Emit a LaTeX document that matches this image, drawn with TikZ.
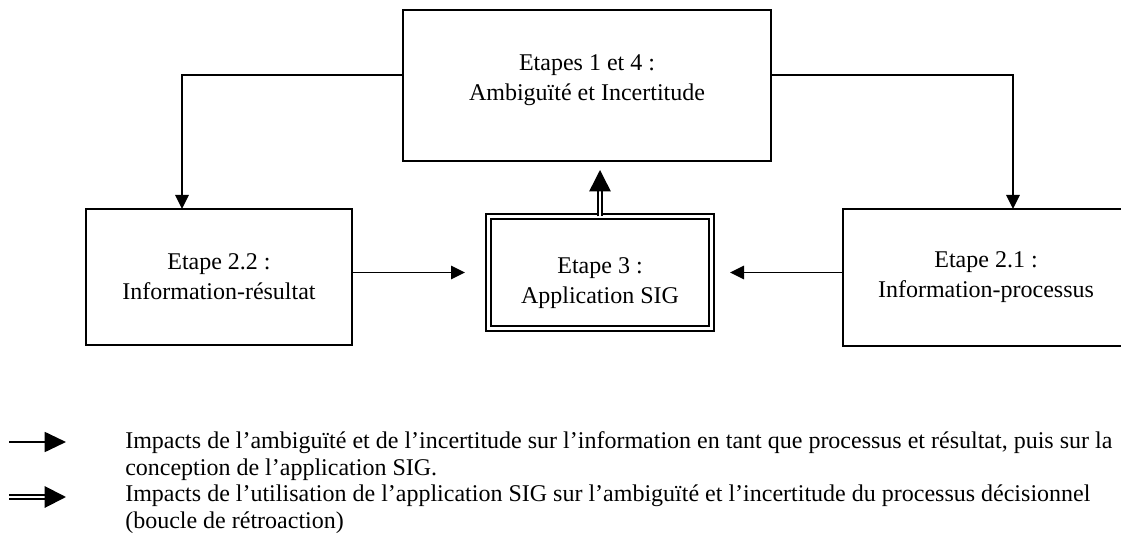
\documentclass[tikz,border=0pt]{standalone}
\usepackage{fontspec}
\setmainfont{Liberation Serif}
\usetikzlibrary{arrows.meta,positioning}
\tikzstyle{etapebox} = [rectangle, draw, line width=1.5pt, outer sep=0pt, inner sep=0pt,
    align=center, font=\fontsize{18}{22.5}\selectfont]
\tikzstyle{sigbox} = [etapebox, double, line width=1.1pt, double distance=2.4pt]
\tikzstyle{arrow} = [line width=1.4pt, -{Triangle[length=10.5pt,width=10pt]}]
\tikzstyle{dblarrow} = [double, line width=1.1pt, double distance=1.6pt, -{Triangle[length=16pt,width=16pt]}]
\tikzstyle{legend} = [inner sep=0pt, align=left, font=\fontsize{18}{19.8}\selectfont]

\begin{document}
\begin{tikzpicture}[x=0.75pt, y=-0.75pt]
\useasboundingbox (0,0) rectangle (1121,538);
% the four steps
\node[etapebox, minimum width=276pt, minimum height=113.25pt] (ambig) at (587,85.5) {Etapes 1 et 4 :\\Ambiguïté et Incertitude\rule[-12pt]{0pt}{12pt}};
\node[etapebox, minimum width=199.5pt, minimum height=102pt] (resultat) at (219,277) {Etape 2.2 :\\Information-résultat};
\node[etapebox, minimum width=214.5pt, minimum height=102.75pt] (processus) at (986,277.5) {Etape 2.1 :\\Information-processus};
\node[sigbox, minimum width=167.25pt, minimum height=84pt] (sig) at (600,272.5) {\rule{0pt}{28pt}Etape 3 :\\Application SIG};
% connectors
\coordinate (lcorner) at (182,75);
\coordinate (rcorner) at (1013,75);
\draw[arrow] (ambig.west |- lcorner) -| (lcorner |- resultat.north);
\draw[arrow] (ambig.east |- rcorner) -| (rcorner |- processus.north);
\draw[arrow, shorten >=17.6pt] (resultat.east |- sig.west) -- (sig.west);
\draw[arrow, shorten >=13.9pt] (processus.west |- sig.east) -- (sig.east);
\draw[dblarrow, shorten >=6.75pt] (sig.north) -- (sig.north |- ambig.south);
% legend
\coordinate (sa) at (9,442); \coordinate (sb) at (66,442);
\coordinate (da) at (9,497); \coordinate (db) at (66,497);
\draw[arrow, -{Triangle[length=16pt,width=15pt]}] (sa) -- (sb);
\draw[dblarrow, line width=1.5pt, double distance=2.2pt] (da) -- (db);
\node[legend, anchor=base west] (impacta) at (125,475) {Impacts de l’ambiguïté et de l’incertitude sur l’information en tant que processus et résultat, puis sur la\\conception de l’application SIG.};
\node[legend, anchor=base west] (impactb) at (125,528) {Impacts de l’utilisation de l’application SIG sur l’ambiguïté et l’incertitude du processus décisionnel\\(boucle de rétroaction)};
\end{tikzpicture}
\end{document}
